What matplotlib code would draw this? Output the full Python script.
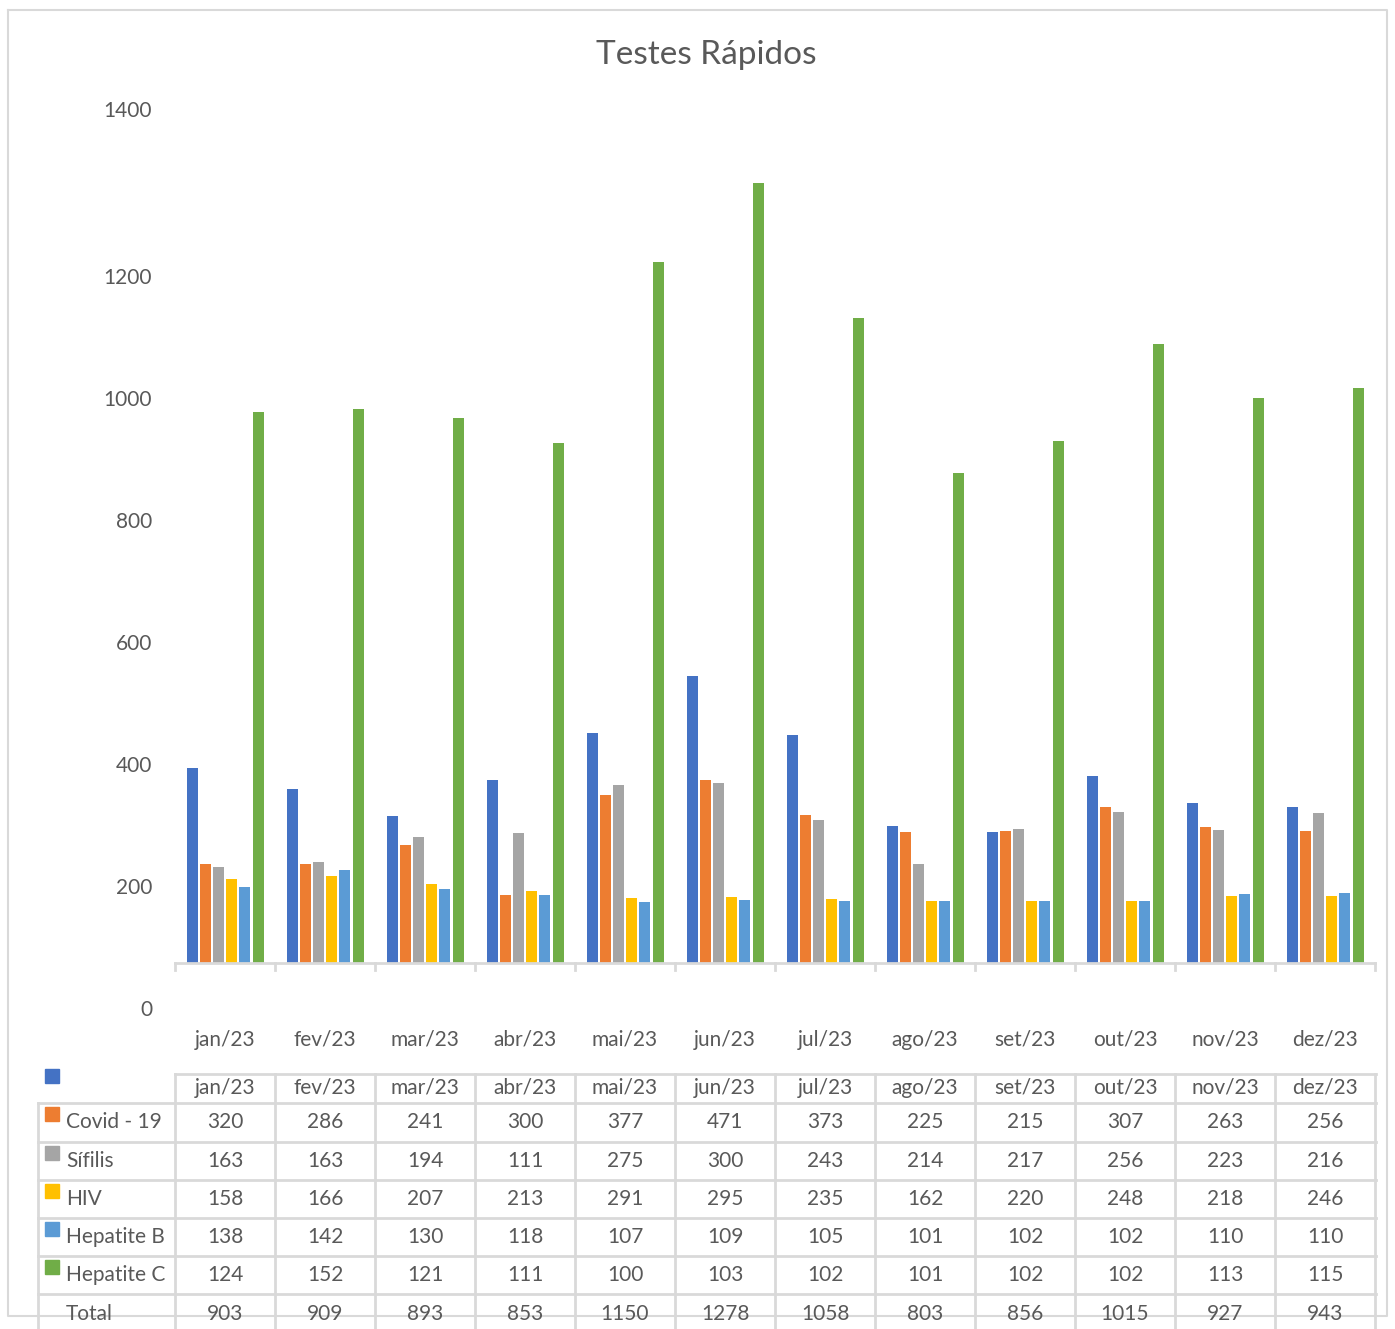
import matplotlib
matplotlib.use("Agg")
import matplotlib.pyplot as plt
import numpy as np

# ---- data ----
months = ["jan/23", "fev/23", "mar/23", "abr/23", "mai/23", "jun/23",
          "jul/23", "ago/23", "set/23", "out/23", "nov/23", "dez/23"]
covid = [320, 286, 241, 300, 377, 471, 373, 225, 215, 307, 263, 256]
sifilis = [163, 163, 194, 111, 275, 300, 243, 214, 217, 256, 223, 216]
hiv = [158, 166, 207, 213, 291, 295, 235, 162, 220, 248, 218, 246]
hepb = [138, 142, 130, 118, 107, 109, 105, 101, 102, 102, 110, 110]
hepc = [124, 152, 121, 111, 100, 103, 102, 101, 102, 102, 113, 115]
total = [903, 909, 893, 853, 1150, 1278, 1058, 803, 856, 1015, 927, 943]
series = [covid, sifilis, hiv, hepb, hepc, total]
colors = ["#4472C4", "#ED7D31", "#A5A5A5", "#FFC000", "#5B9BD5", "#70AD47"]
# table row labels as they appear (shifted by one in the source image)
row_labels = ["", "Covid - 19", "Sífilis", "HIV", "Hepatite B", "Hepatite C", "Total"]
ytick_labels = ["0", "200", "400", "600", "800", "1000", "1200", "1400"]
ytick_pos = [-74, 126, 326, 526, 726, 926, 1126, 1400]

W, H = 1395, 1329
TXT = "#595959"
GRID = "#D9D9D9"
plt.rcParams['font.family'] = ['Lato', 'DejaVu Sans']

fig = plt.figure(figsize=(W / 100, H / 100), dpi=100)

# outer chart border
border = fig.add_axes([0, 0, 1, 1])
border.set_xlim(0, W); border.set_ylim(H, 0); border.axis("off")
border.plot([8, 1387, 1387, 8, 8], [10, 10, 1316, 1316, 10], color=GRID, lw=1.5)

# main axes: baseline(0) at 963 px, 1400 at 109 px
px_per = (963 - 109) / 1400.0
bottom_px = 963 + 74 * px_per
ax = fig.add_axes([175 / W, 1 - bottom_px / H, 1200 / W, (bottom_px - 109) / H])
ax.set_xlim(-0.5, 11.5)
ax.set_ylim(-74, 1400)
for s in ax.spines.values():
    s.set_visible(False)

x = np.arange(len(months))
bw = 0.11
step = 0.132
for i, (vals, c) in enumerate(zip(series, colors)):
    ax.bar(x + (i - 2.5) * step, vals, width=bw, color=c, zorder=2)

# x axis line with tick marks
ax.plot([-0.5, 11.5], [0, 0], color=GRID, lw=2, zorder=3, clip_on=False)
tick_len = 7 / px_per
for b in np.arange(-0.5, 12.0, 1.0):
    ax.plot([b, b], [0, -tick_len], color=GRID, lw=2, zorder=3, clip_on=False)

ax.set_xticks([])
ax.set_yticks(ytick_pos, ytick_labels)
ax.tick_params(axis="y", length=0, pad=16.5, labelsize=15, labelcolor=TXT)
for xi, m in zip(x, months):
    ax.text(xi, -126, m, ha="center", va="center", fontsize=15, color=TXT)

fig.text(706 / W, 1 - 55 / H, "Testes Rápidos", ha="center", va="center",
         fontsize=24, color=TXT)

# data table
tb = fig.add_axes([0, 0, 1, 1], facecolor="none")
tb.set_xlim(0, W); tb.set_ylim(H, 0); tb.axis("off")
col_edges = [175 + 100 * k for k in range(13)]
h_lines = [1103, 1142, 1180, 1218, 1256, 1294]
tb.plot([175, 1376], [1074, 1074], color=GRID, lw=2)
for yl in h_lines:
    tb.plot([38, 1376], [yl, yl], color=GRID, lw=2)
tb.plot([38, 38], [1103, H], color=GRID, lw=2)
for xe in col_edges:
    tb.plot([xe, xe], [1074, H], color=GRID, lw=2)

row_centers = [1088, 1122, 1161, 1199, 1237, 1275, 1314]
table_rows = [months] + [[str(v) for v in s] for s in series]
for r, (yc, lab) in enumerate(zip(row_centers, row_labels)):
    if r < len(colors):
        top = 1069 if r == 0 else yc - 15
        tb.add_patch(plt.Rectangle((45, top), 14, 14, color=colors[r]))
    if lab:
        tb.text(66, yc, lab, ha="left", va="center", fontsize=15, color=TXT)
    for k, val in enumerate(table_rows[r]):
        tb.text(225 + 100 * k, yc, val, ha="center", va="center", fontsize=15, color=TXT)

fig.savefig("out.png", dpi=100, facecolor="white")
